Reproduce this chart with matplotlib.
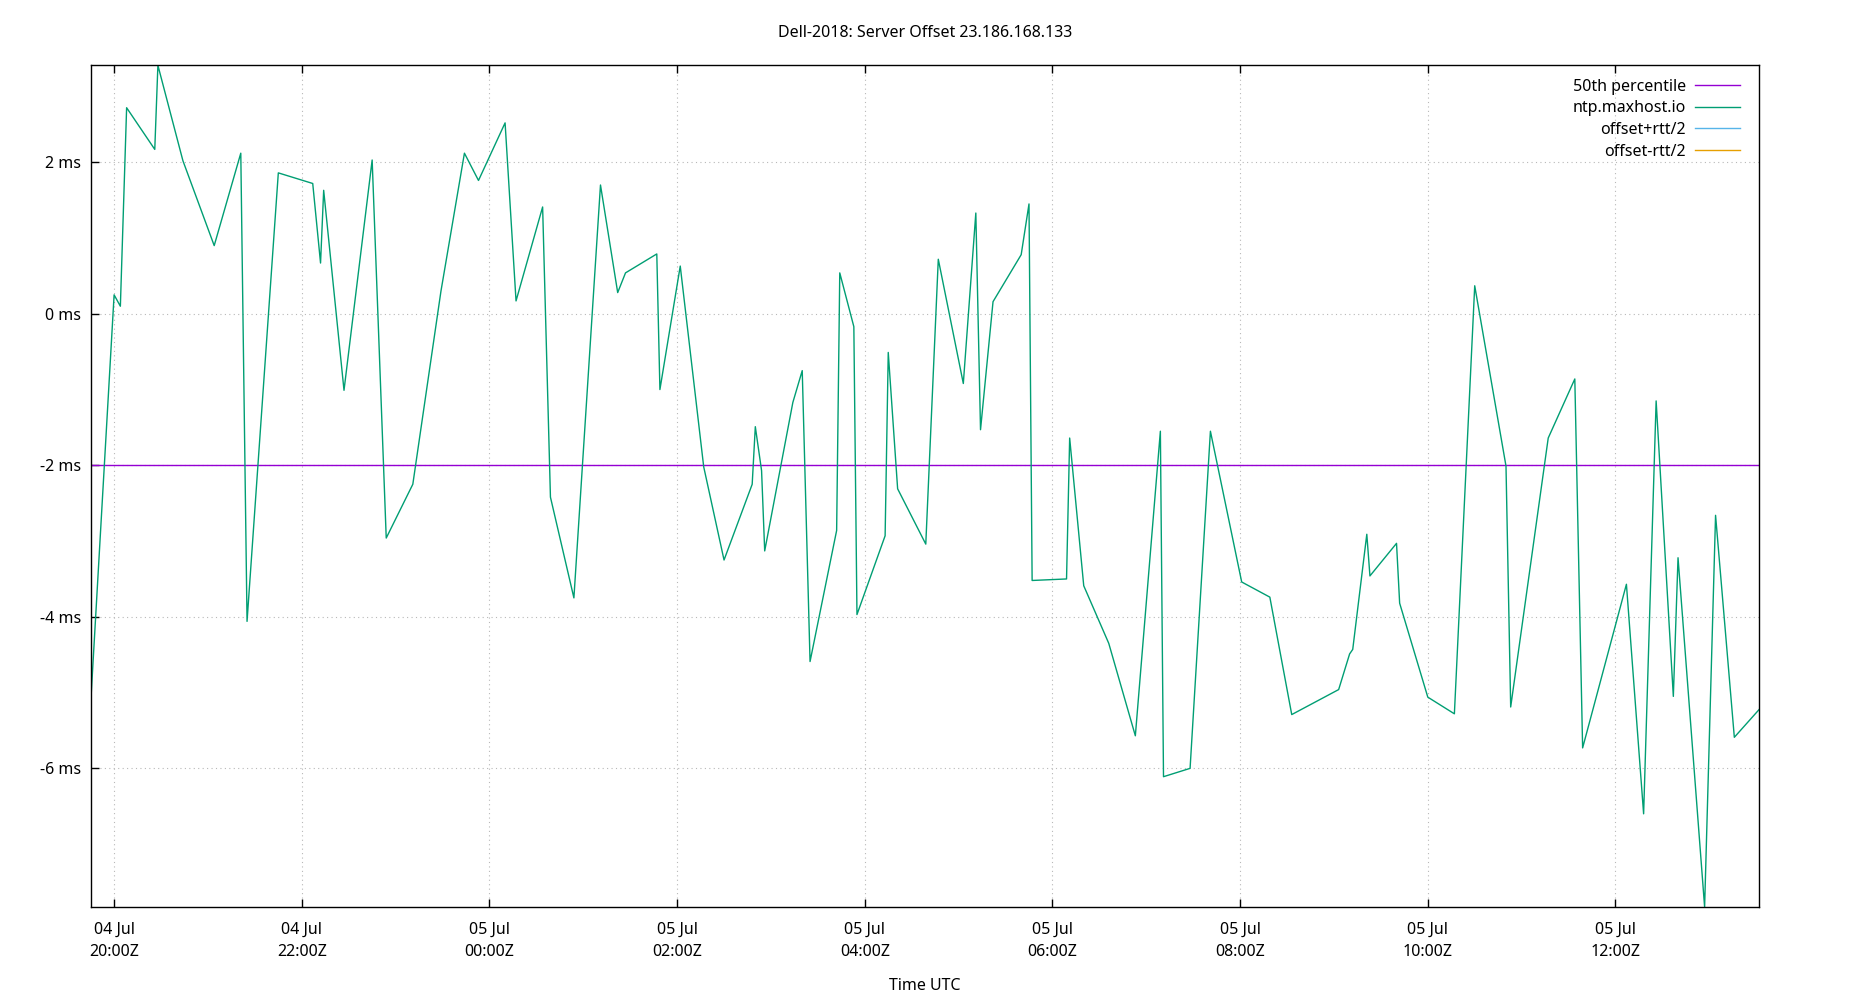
import matplotlib
matplotlib.use("Agg")
import matplotlib.pyplot as plt
import matplotlib.dates as mdates
from matplotlib.ticker import MultipleLocator, FuncFormatter
import pandas as pd

plt.rcParams['font.family'] = ['Noto Sans', 'DejaVu Sans']
plt.rcParams['font.size'] = 11.5

title = "Dell-2018: Server Offset 23.186.168.133"
x_label = "Time UTC"

# sample times (UTC)
times = [
    "2018-07-04 19:45", "2018-07-04 20:00", "2018-07-04 20:04", "2018-07-04 20:08",
    "2018-07-04 20:26", "2018-07-04 20:28", "2018-07-04 20:44", "2018-07-04 21:04",
    "2018-07-04 21:21", "2018-07-04 21:25", "2018-07-04 21:45", "2018-07-04 22:07",
    "2018-07-04 22:12", "2018-07-04 22:14", "2018-07-04 22:27", "2018-07-04 22:45",
    "2018-07-04 22:54", "2018-07-04 23:11", "2018-07-04 23:29", "2018-07-04 23:44",
    "2018-07-04 23:53", "2018-07-05 00:10", "2018-07-05 00:17", "2018-07-05 00:34",
    "2018-07-05 00:39", "2018-07-05 00:54", "2018-07-05 01:11", "2018-07-05 01:22",
    "2018-07-05 01:27", "2018-07-05 01:47", "2018-07-05 01:49", "2018-07-05 02:02",
    "2018-07-05 02:17", "2018-07-05 02:30", "2018-07-05 02:48", "2018-07-05 02:50",
    "2018-07-05 02:54", "2018-07-05 02:56", "2018-07-05 03:14", "2018-07-05 03:20",
    "2018-07-05 03:25", "2018-07-05 03:42", "2018-07-05 03:44", "2018-07-05 03:53",
    "2018-07-05 03:55", "2018-07-05 04:13", "2018-07-05 04:15", "2018-07-05 04:21",
    "2018-07-05 04:39", "2018-07-05 04:47", "2018-07-05 05:03", "2018-07-05 05:11",
    "2018-07-05 05:14", "2018-07-05 05:22", "2018-07-05 05:40", "2018-07-05 05:45",
    "2018-07-05 05:47", "2018-07-05 06:09", "2018-07-05 06:11", "2018-07-05 06:20",
    "2018-07-05 06:36", "2018-07-05 06:53", "2018-07-05 07:09", "2018-07-05 07:11",
    "2018-07-05 07:28", "2018-07-05 07:41", "2018-07-05 08:01", "2018-07-05 08:19",
    "2018-07-05 08:33", "2018-07-05 09:03", "2018-07-05 09:10", "2018-07-05 09:12",
    "2018-07-05 09:21", "2018-07-05 09:23", "2018-07-05 09:40", "2018-07-05 09:42",
    "2018-07-05 10:00", "2018-07-05 10:17", "2018-07-05 10:30", "2018-07-05 10:50",
    "2018-07-05 10:53", "2018-07-05 11:17", "2018-07-05 11:34", "2018-07-05 11:39",
    "2018-07-05 12:07", "2018-07-05 12:18", "2018-07-05 12:26", "2018-07-05 12:37",
    "2018-07-05 12:40", "2018-07-05 12:57", "2018-07-05 13:04", "2018-07-05 13:16",
    "2018-07-05 13:32",
]

# offset of ntp.maxhost.io in ms
offset_ms = [
    -5.15, 0.25, 0.10, 2.72,
    2.17, 3.28, 2.02, 0.90,
    2.12, -4.06, 1.86, 1.72,
    0.67, 1.63, -1.01, 2.03,
    -2.96, -2.25, 0.30, 2.12,
    1.76, 2.52, 0.17, 1.41,
    -2.42, -3.75, 1.70, 0.28,
    0.54, 0.79, -1.00, 0.63,
    -2.02, -3.25, -2.25, -1.49,
    -2.07, -3.13, -1.17, -0.75,
    -4.59, -2.86, 0.54, -0.17,
    -3.97, -2.93, -0.51, -2.31,
    -3.04, 0.72, -0.92, 1.33,
    -1.53, 0.16, 0.78, 1.45,
    -3.52, -3.50, -1.64, -3.59,
    -4.35, -5.57, -1.55, -6.11,
    -6.00, -1.55, -3.54, -3.74,
    -5.29, -4.96, -4.49, -4.43,
    -2.91, -3.46, -3.03, -3.82,
    -5.06, -5.28, 0.37, -2.01,
    -5.19, -1.64, -0.86, -5.73,
    -3.57, -6.60, -1.15, -5.05,
    -3.22, -7.83, -2.66, -5.59,
    -5.22,
]

median_ms = -2.0

# offset +/- rtt/2 series (no visible data in the chart)
offset_plus_rtt2 = []
offset_minus_rtt2 = []

series_labels = ["50th percentile", "ntp.maxhost.io", "offset+rtt/2", "offset-rtt/2"]
series_colors = ["#9400d3", "#009e73", "#56b4e9", "#e69f00"]

t = pd.to_datetime(times)

fig = plt.figure(figsize=(18.5, 10), dpi=100)
ax = fig.add_axes([0.049, 0.093, 0.951 - 0.049, 0.9347 - 0.093])

ax.axhline(median_ms, color=series_colors[0], lw=1.0, label=series_labels[0])
ax.plot(t, offset_ms, color=series_colors[1], lw=1.0, label=series_labels[1])
ax.plot(t[:len(offset_plus_rtt2)], offset_plus_rtt2, color=series_colors[2], lw=1.0, label=series_labels[2])
ax.plot(t[:len(offset_minus_rtt2)], offset_minus_rtt2, color=series_colors[3], lw=1.0, label=series_labels[3])

ax.set_xlim(t[0], t[-1])
ax.set_ylim(min(offset_ms), max(offset_ms))

ax.xaxis.set_major_locator(mdates.HourLocator(byhour=range(0, 24, 2)))
ax.xaxis.set_major_formatter(mdates.DateFormatter("%d %b\n%H:%MZ"))
ax.yaxis.set_major_locator(MultipleLocator(2))
ax.yaxis.set_major_formatter(FuncFormatter(lambda v, p: f"{v:g} ms"))

ax.tick_params(axis='x', direction='in', length=6, width=1, top=True, bottom=True, pad=11)
ax.tick_params(axis='y', direction='in', length=6, width=1, left=True, right=False, pad=7)
for lbl in ax.get_xticklabels():
    lbl.set_linespacing(1.5)

ax.grid(True, color='#b8b8b8', linestyle=(0, (1, 3)), lw=0.8)
for s in ax.spines.values():
    s.set_color('black')
    s.set_linewidth(1.0)

leg = ax.legend(loc='upper right', bbox_to_anchor=(0.9965, 1.0), frameon=False,
                markerfirst=False, handlelength=2.8, labelspacing=0.35,
                borderaxespad=0.45, handletextpad=0.6)

fig.text(0.5, 0.967, title, ha='center', va='center')
fig.text(0.5, 0.014, x_label, ha='center', va='center')

fig.savefig("out.png", dpi=100)
